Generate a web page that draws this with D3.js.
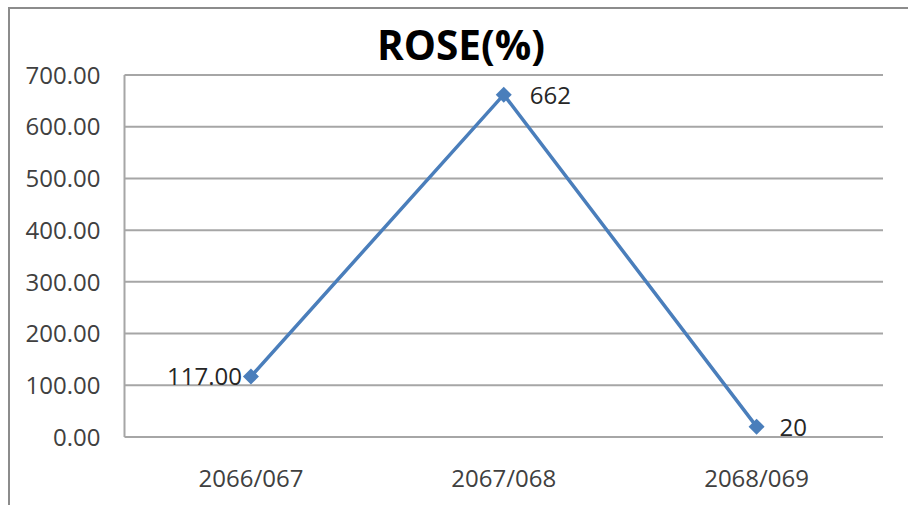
<!DOCTYPE html>
<html><head><meta charset="utf-8">
<script src="https://cdn.jsdelivr.net/npm/d3@7/dist/d3.min.js"></script>
<style>body{margin:0;background:#fff}svg{display:block}</style>
</head><body>
<script>
const categories = ["2066/067","2067/068","2068/069"];
const values = [117, 662, 20];
const valueLabels = ["117.00","662","20"];
const yTicks = [0,100,200,300,400,500,600,700];
const title = "ROSE(%)";

const W = 908, H = 505;
const m = {left:124.5, right:25, top:75, bottom:68};
const svg = d3.select("body").append("svg").attr("width",W).attr("height",H);
svg.append("rect").attr("x",0).attr("y",0).attr("width",W).attr("height",H).attr("fill","#fff");
// outer chart border
svg.append("rect").attr("x",9).attr("y",8).attr("width",W+20).attr("height",H+20)
  .attr("fill","none").attr("stroke","#8c8c8c").attr("stroke-width",2);

const x = d3.scaleBand().domain(categories).range([m.left, W-m.right]);
const y = d3.scaleLinear().domain([0,700]).range([H-m.bottom, m.top]);
const font = "'Open Sans',sans-serif";

// gridlines
svg.append("g").selectAll("line").data(yTicks).join("line")
  .attr("x1",m.left).attr("x2",W-m.right)
  .attr("y1",d=>y(d)).attr("y2",d=>y(d))
  .attr("stroke","#a6a6a6").attr("stroke-width",2);
// y axis line
svg.append("line").attr("x1",m.left).attr("x2",m.left).attr("y1",y(700)).attr("y2",y(0))
  .attr("stroke","#a6a6a6").attr("stroke-width",2);

const yAxis = d3.axisLeft(y).tickValues(yTicks).tickFormat(d3.format(".2f")).tickSize(0).tickPadding(24);
const gy = svg.append("g").attr("transform",`translate(${m.left},0)`).call(yAxis);
gy.select(".domain").remove();
gy.selectAll("text").attr("font-family",font).attr("font-size",24).attr("fill","#404040").attr("dy","0.34em");

const xAxis = d3.axisBottom(x).tickSize(0).tickPadding(33);
const gx = svg.append("g").attr("transform",`translate(0,${y(0)})`).call(xAxis);
gx.select(".domain").remove();
gx.selectAll("text").attr("font-family",font).attr("font-size",24).attr("fill","#404040");

const cx = d=>x(d)+x.bandwidth()/2;
const line = d3.line().x((d,i)=>cx(categories[i])).y(d=>y(d));
svg.append("path").datum(values).attr("d",line).attr("fill","none")
  .attr("stroke","#4a7ebb").attr("stroke-width",3.5);
const r = 8;
svg.append("g").selectAll("path").data(values).join("path")
  .attr("d",`M0,${-r}L${r},0L0,${r}L${-r},0Z`)
  .attr("transform",(d,i)=>`translate(${cx(categories[i])},${y(d)})`)
  .attr("fill","#4a7ebb");

// data labels
const offs = [{dx:-9,anchor:"end"},{dx:26,anchor:"start"},{dx:23,anchor:"start"}];
svg.append("g").selectAll("text").data(values).join("text")
  .attr("x",(d,i)=>cx(categories[i])+offs[i].dx)
  .attr("y",(d,i)=>y(d)+9)
  .attr("text-anchor",(d,i)=>offs[i].anchor)
  .attr("font-family",font).attr("font-size",24).attr("fill","#262626")
  .text((d,i)=>valueLabels[i]);

svg.append("text").attr("x",461).attr("y",60).attr("text-anchor","middle")
  .attr("font-family",font).attr("font-weight","bold").attr("font-size",42)
  .attr("fill","#000").attr("textLength",168).attr("lengthAdjust","spacingAndGlyphs").text(title);
</script>
</body></html>
